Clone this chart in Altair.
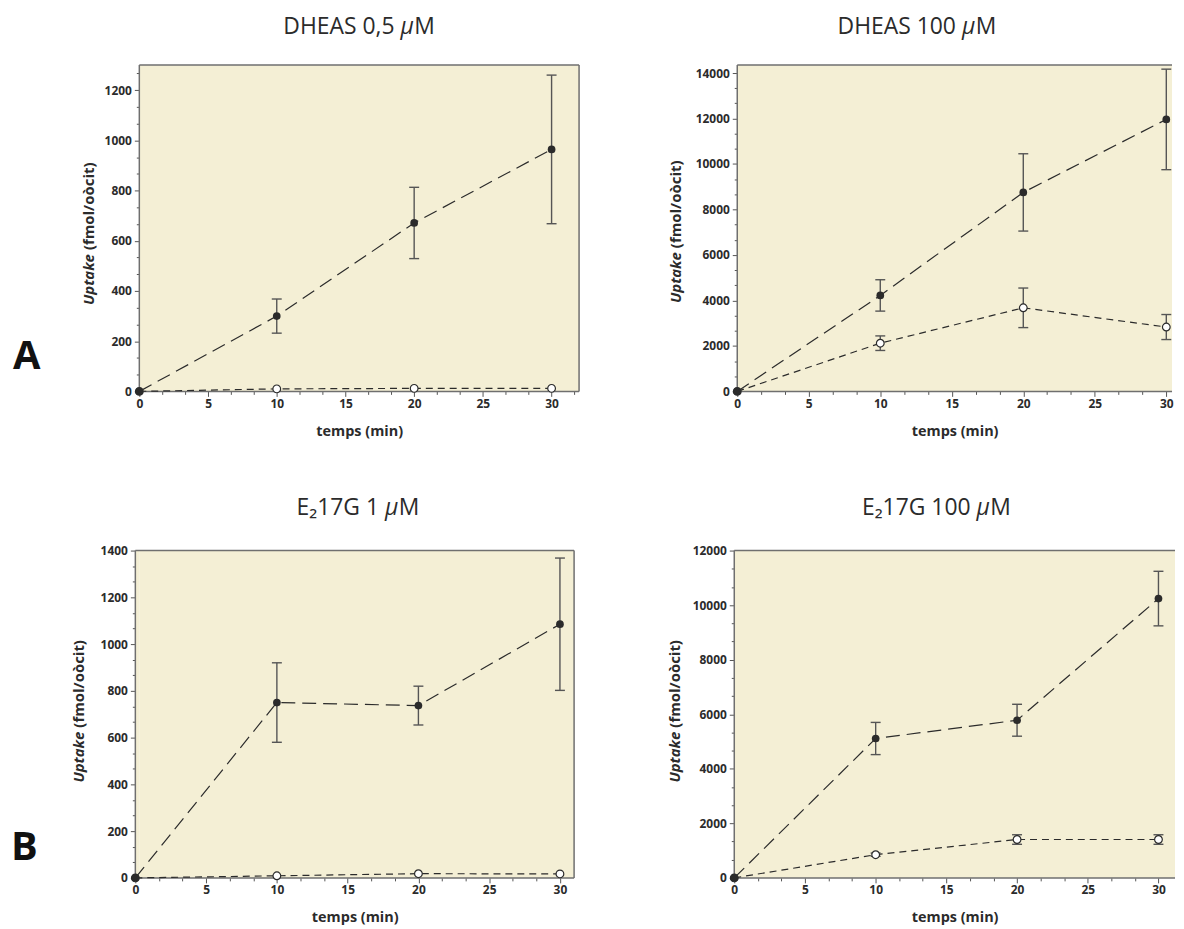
import altair as alt
import pandas as pd

# ---------------- data ----------------
time = [0, 10, 20, 30]

dheas05_filled = [0, 300, 671, 964]
dheas05_filled_err = [0, 68, 142, 296]
dheas05_open = [0, 10, 12, 12]
dheas05_open_err = [0, 0, 0, 0]

dheas100_filled = [0, 4220, 8750, 11960]
dheas100_filled_err = [0, 690, 1700, 2210]
dheas100_open = [0, 2120, 3675, 2830]
dheas100_open_err = [0, 320, 870, 550]

e217g1_filled = [0, 750, 737, 1085]
e217g1_filled_err = [0, 170, 83, 283]
e217g1_open = [0, 9, 18, 17]
e217g1_open_err = [0, 0, 0, 0]

e217g100_filled = [0, 5110, 5780, 10240]
e217g100_filled_err = [0, 590, 585, 1000]
e217g100_open = [0, 850, 1407, 1407]
e217g100_open_err = [0, 60, 175, 175]

# titles: (text before the unit, unit prefix (italic), unit)
titles = [("DHEAS 0,5", "\u03bc", "M"), ("DHEAS 100", "\u03bc", "M"),
          ("E\u208217G 1", "\u03bc", "M"), ("E\u208217G 100", "\u03bc", "M")]
x_label = "temps (min)"
y_label_italic = "Uptake"
y_label_rest = "(fmol/o\u00f2cit)"
x_major = [0, 5, 10, 15, 20, 25, 30]

FONT = "Open Sans"
BG = "#f4efd5"
INK = "#2b2b2b"
FRAME = "#6f6f6f"
TFS = 23  # title font size
SPACE = 0.26 * TFS


def make_panel(filled, ferr, opn, oerr, title, ytop, ystep, xtop, w, h,
               anchors, ytitle, tpos, right_border=True, letter=None, xoff=0):
    """w = frame width; the frame starts xoff px left of the view origin."""
    rows = []
    for t, v, e in zip(time, filled, ferr):
        rows.append({"t": t, "y": v, "lo": v - e, "hi": v + e, "err": e, "s": "filled"})
    for t, v, e in zip(time, opn, oerr):
        rows.append({"t": t, "y": v, "lo": v - e, "hi": v + e, "err": e, "s": "open"})
    df = pd.DataFrame(rows)
    dff = df[df.s == "filled"]
    dfo = df[df.s == "open"]
    dferr = df[df.err > 0]
    caps = pd.concat([dferr.assign(c=dferr.lo), dferr.assign(c=dferr.hi)])

    xminor = [m + d for m in x_major for d in (5 / 3, 10 / 3) if m + d <= xtop]
    ymajor = list(range(0, int(ytop) + 1, ystep))
    yminor = [m + d for m in ymajor for d in (ystep / 3, 2 * ystep / 3) if m + d <= ytop]

    vw = w - xoff  # view width
    L = -xoff      # frame left, relative to view origin

    xaxis = alt.Axis(
        values=x_major + xminor,
        labelExpr="datum.value % 5 === 0 ? datum.label : ''",
        tickSize={"condition": {"test": "datum.value % 5 === 0", "value": 5}, "value": 3},
        title=x_label, titleFontSize=14.5, titleFontWeight="bold", titleColor=INK,
        titlePadding=15, labelPadding=2, titleX=L + w / 2,
        labelFlush=False, labelOverlap=False, grid=False, domain=False,
    )
    yaxis = alt.Axis(
        values=ymajor + yminor,
        labelExpr="datum.value %% %d === 0 ? datum.label : ''" % ystep,
        tickSize={"condition": {"test": "datum.value %% %d === 0" % ystep, "value": 5}, "value": 3},
        format="d", title=None, labelPadding=3, offset=xoff,
        labelFlush=False, labelOverlap=False, grid=False, domain=False,
    )
    xs = alt.Scale(domain=[0, xtop], nice=False, range=[L, vw])
    ys = alt.Scale(domain=[0, ytop], nice=False)
    X = alt.X("t:Q", scale=xs, axis=xaxis)
    Y = alt.Y("y:Q", scale=ys, axis=yaxis)
    Ylo = alt.Y("lo:Q", scale=ys, axis=yaxis)
    Yc = alt.Y("c:Q", scale=ys, axis=yaxis)

    line_f = alt.Chart(dff).mark_line(strokeDash=[14, 7], color=INK, strokeWidth=1.2).encode(x=X, y=Y)
    line_o = alt.Chart(dfo).mark_line(strokeDash=[7, 5], color=INK, strokeWidth=1.2).encode(x=X, y=Y)
    bars = alt.Chart(dferr).mark_rule(color="#555", strokeWidth=1.4).encode(x=X, y=Ylo, y2="hi:Q")
    capm = alt.Chart(caps).mark_tick(orient="horizontal", size=10, thickness=1.4, color="#555",
                                     opacity=1).encode(x=X, y=Yc)
    pt_o = alt.Chart(dfo).mark_circle(size=60, color="white", stroke=INK, strokeWidth=1.2,
                                      opacity=1).encode(x=X, y=Y)
    pt_f = alt.Chart(dff).mark_circle(size=60, color=INK, opacity=1).encode(x=X, y=Y)

    one = alt.Data(values=[{"a": 1}])
    layers = []
    # invisible (white) layout anchors
    for (axp, ayp) in anchors:
        layers.append(alt.Chart(one).mark_rule(color="white", strokeWidth=0.5).encode(
            x=alt.value(L + axp), x2=alt.value(L + axp), y=alt.value(ayp), y2=alt.value(ayp + 0.5)))
    if xoff > 0:
        layers.append(alt.Chart(one).mark_rect(color=BG, opacity=1).encode(
            x=alt.value(L), x2=alt.value(0), y=alt.value(0), y2=alt.value(h)))
    # frame
    fr = dict(color=FRAME, strokeWidth=1.5)
    layers.append(alt.Chart(one).mark_rule(**fr).encode(x=alt.value(L), x2=alt.value(vw), y=alt.value(0)))
    layers.append(alt.Chart(one).mark_rule(**fr).encode(x=alt.value(L), x2=alt.value(vw), y=alt.value(h)))
    layers.append(alt.Chart(one).mark_rule(**fr).encode(x=alt.value(L), y=alt.value(0), y2=alt.value(h)))
    if right_border:
        layers.append(alt.Chart(one).mark_rule(**fr).encode(x=alt.value(vw), y=alt.value(0), y2=alt.value(h)))

    layers += [line_o, line_f, bars, capm, pt_o, pt_f]

    tx, ty = ytitle
    layers.append(alt.Chart(one).mark_text(text=y_label_italic, angle=270, align="right", baseline="middle",
                                           font=FONT, fontSize=15, fontWeight="bold", fontStyle="italic",
                                           color=INK).encode(x=alt.value(L + tx), y=alt.value(ty)))
    layers.append(alt.Chart(one).mark_text(text=y_label_rest, angle=270, align="left", baseline="middle",
                                           font=FONT, fontSize=15, fontWeight="bold",
                                           color=INK).encode(x=alt.value(L + tx), y=alt.value(ty - 4)))
    # panel title: a = position of the (italic) mu
    a, py = tpos
    a = L + a
    pre, mu, unit = title
    tstyle = dict(font=FONT, fontSize=TFS, color=INK, baseline="alphabetic")
    layers.append(alt.Chart(one).mark_text(text=pre, align="right", **tstyle).encode(
        x=alt.value(a - SPACE), y=alt.value(py)))
    layers.append(alt.Chart(one).mark_text(text=mu, align="left", fontStyle="italic", **tstyle).encode(
        x=alt.value(a), y=alt.value(py)))
    layers.append(alt.Chart(one).mark_text(text=unit, align="left", **tstyle).encode(
        x=alt.value(a + 0.6 * TFS), y=alt.value(py)))
    if letter is not None:
        lt, lx, ly = letter
        layers.append(alt.Chart(one).mark_text(text=lt, align="left", baseline="alphabetic",
                                               font=FONT, fontSize=40, fontWeight="bold",
                                               color="#111").encode(x=alt.value(L + lx), y=alt.value(ly)))
    return alt.layer(*layers).properties(width=vw, height=h)


# title anchor (mu position) = title centre + offset depending on text length
def mu_pos(center, pre_em, post_em=1.49):
    return center - (pre_em + post_em) * TFS / 2 + pre_em * TFS


tl = make_panel(dheas05_filled, dheas05_filled_err, dheas05_open, dheas05_open_err,
                titles[0], 1300, 200, 32, 442, 328,
                [(-131, -54.7), (-131, 383)], (-51, 190), (mu_pos(221, 5.10), -31.5), True,
                ("A", -127, 305))
tr = make_panel(dheas100_filled, dheas100_filled_err, dheas100_open, dheas100_open_err,
                titles[1], 14350, 2000, 30.4, 437, 328,
                [(-157, -54.7), (-157, 383)], (-62, 188), (mu_pos(180.5, 5.43), -31.5), False)
bl = make_panel(e217g1_filled, e217g1_filled_err, e217g1_open, e217g1_open_err,
                titles[2], 1400, 200, 31, 441, 329,
                [(-127, -103.3)], (-57, 182), (mu_pos(223.5, 3.87), -36), True,
                ("B", -125, 311), xoff=4)
br = make_panel(e217g100_filled, e217g100_filled_err, e217g100_open, e217g100_open_err,
                titles[3], 12000, 2000, 31.17, 443, 329,
                [(-156, -103.3)], (-60, 182), (mu_pos(203, 5.01), -36), False)

row1 = alt.hconcat(tl, tr, spacing=0)
row2 = alt.hconcat(bl, br, spacing=0)
chart = alt.concat(row1, row2, columns=1, spacing=0, align="none").properties(padding=0).configure(
    font=FONT
).configure_view(
    fill=BG, stroke="transparent", strokeWidth=0
).configure_axis(
    labelFont=FONT, labelFontSize=12, labelFontWeight="bold", labelColor=INK,
    tickColor="#555", tickWidth=1, titleFont=FONT
)

chart.save("out.html", embed_options={"renderer": "svg", "actions": False})
